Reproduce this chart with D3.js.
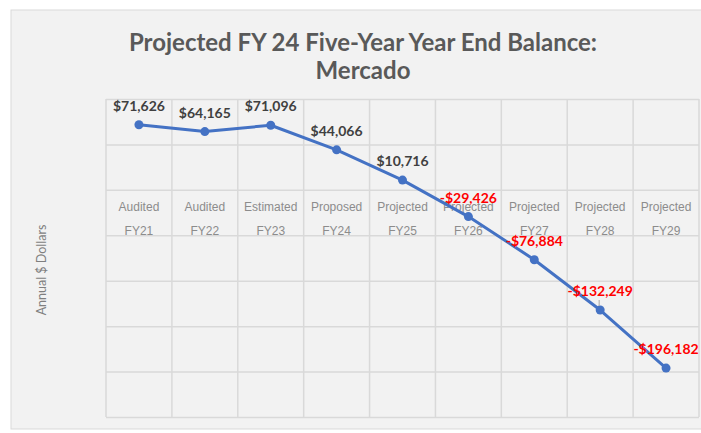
<!DOCTYPE html>
<html>
<head>
<meta charset="utf-8">
<script src="https://cdn.jsdelivr.net/npm/d3@7"></script>
<style>
  body { margin: 0; background: #ffffff; }
  svg { display: block; font-family: Lato, "Open Sans", sans-serif; }
</style>
</head>
<body>
<div id="chart"></div>
<script>
// chart values
const stages = ["Audited", "Audited", "Estimated", "Proposed", "Projected", "Projected", "Projected", "Projected", "Projected"];
const years = ["FY21", "FY22", "FY23", "FY24", "FY25", "FY26", "FY27", "FY28", "FY29"];
const balances = [71626, 64165, 71096, 44066, 10716, -29426, -76884, -132249, -196182];
const yTicks = [100000, 50000, 0, -50000, -100000, -150000, -200000, -250000];

const W = 701, H = 433;
const margin = {top: 99, right: 2, bottom: 16, left: 106};
const width = W - margin.left - margin.right;
const height = H - margin.top - margin.bottom;

const svg = d3.select("#chart").append("svg")
    .attr("width", W)
    .attr("height", H);

// panel
svg.append("rect")
    .attr("x", 11).attr("y", 10)
    .attr("width", W - 11 + 2).attr("height", 419)
    .attr("fill", "#f2f2f2")
    .attr("stroke", "#d9d9d9")
    .attr("stroke-width", 1);

// title
const title = svg.append("text")
    .attr("text-anchor", "middle")
    .attr("fill", "#595959")
    .style("font-size", "24px")
    .style("font-weight", "bold");
title.append("tspan").attr("x", 363).attr("y", 51).text("Projected FY 24 Five-Year Year End Balance:");
title.append("tspan").attr("x", 363).attr("y", 79).text("Mercado");

const g = svg.append("g")
    .attr("transform", `translate(${margin.left},${margin.top})`);

const x = d3.scaleBand()
    .domain(years)
    .range([0, width]);

const y = d3.scaleLinear()
    .domain([-250000, 100000])
    .range([height, 0]);

// horizontal gridlines
g.append("g")
    .call(d3.axisLeft(y).tickValues(yTicks).tickSize(-width).tickFormat(""))
    .call(g => g.select(".domain").remove())
    .call(g => g.selectAll(".tick line").attr("stroke", "#d9d9d9").attr("stroke-width", 1.5));

// vertical gridlines at band edges
g.append("g")
    .selectAll("line")
    .data(years.concat(["end"]))
    .join("line")
      .attr("x1", (d, i) => i * x.step())
      .attr("x2", (d, i) => i * x.step())
      .attr("y1", 0)
      .attr("y2", height)
      .attr("stroke", "#d9d9d9")
      .attr("stroke-width", 1.5);

// category axis at zero
const xAxis = g.append("g")
    .attr("transform", `translate(0,${y(0)})`)
    .call(d3.axisBottom(x).tickSize(0).tickFormat(""))
    .call(g => g.select(".domain").remove());

xAxis.selectAll(".tick").each(function(d, i) {
  const t = d3.select(this).append("text")
      .attr("text-anchor", "middle")
      .attr("fill", "#8c8c8c")
      .style("font-size", "12px");
  t.append("tspan").attr("x", 0).attr("y", 21).text(stages[i]);
  t.append("tspan").attr("x", 0).attr("y", 45).text(years[i]);
});

// line
const line = d3.line()
    .x((d, i) => x(years[i]) + x.bandwidth() / 2)
    .y(d => y(d));

g.append("path")
    .datum(balances)
    .attr("d", line)
    .attr("fill", "none")
    .attr("stroke", "#4472c4")
    .attr("stroke-width", 3)
    .attr("stroke-linejoin", "round");

g.selectAll(".dot")
    .data(balances)
    .join("circle")
      .attr("class", "dot")
      .attr("cx", (d, i) => x(years[i]) + x.bandwidth() / 2)
      .attr("cy", d => y(d))
      .attr("r", 4.5)
      .attr("fill", "#4472c4");

// small leader line at FY28
g.append("line")
    .attr("x1", x("FY28") + x.bandwidth() / 2 - 1)
    .attr("x2", x("FY28") + x.bandwidth() / 2 - 1)
    .attr("y1", y(balances[7]) - 10)
    .attr("y2", y(balances[7]) - 4)
    .attr("stroke", "#a6a6a6")
    .attr("stroke-width", 1);

// data labels
const fmt = d3.format(",");
g.selectAll(".lbl")
    .data(balances)
    .join("text")
      .attr("class", "lbl")
      .attr("x", (d, i) => x(years[i]) + x.bandwidth() / 2)
      .attr("y", d => y(d) - 14)
      .attr("text-anchor", "middle")
      .attr("fill", d => d < 0 ? "#ff0000" : "#404040")
      .style("font-size", "14px")
      .style("font-weight", "bold")
      .text(d => (d < 0 ? "-$" : "$") + fmt(Math.abs(d)));

// y axis title
svg.append("text")
    .attr("transform", "translate(46,270) rotate(-90)")
    .attr("text-anchor", "middle")
    .attr("fill", "#7f7f7f")
    .style("font-size", "12.5px")
    .text("Annual $ Dollars");
</script>
</body>
</html>
